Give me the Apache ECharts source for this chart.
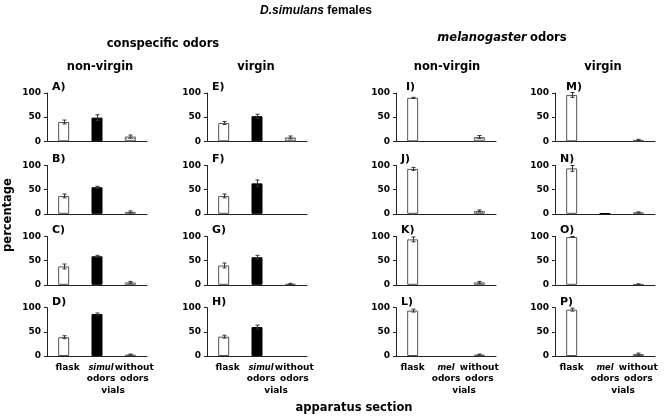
<!DOCTYPE html>
<html>
<head>
<meta charset="utf-8">
<script src="https://cdn.jsdelivr.net/npm/echarts@6/dist/echarts.min.js"></script>
<style>
html,body{margin:0;padding:0;background:#fff;}
#main{width:667px;height:417px;}
</style>
</head>
<body>
<div id="main"></div>
<script>
// panels, column by column: A-D, E-H, I-L, M-P
var panels = ['A)','B)','C)','D)','E)','F)','G)','H)','I)','J)','K)','L)','M)','N)','O)','P)'];
var catsSimul = ['flask','{i|simul}\nodors','without\nodors'];
var catsMel = ['flask','{i|mel}\nodors','without\nodors'];
var yTicks = [0, 50, 100];

var flask    = [40, 37, 38, 39,  38, 37, 40, 40,  90, 93, 94, 94,  96, 94, 99, 96];
var flaskErr = [ 4,  4,  5,  3,   3,  4,  5,  3,   1,  3,  5,  3,   5,  6,  1,  3];
var odors    = [49, 55, 59, 87,  52, 63, 57, 60,   0,  0,  0,  0,   0,  1,  0,  0];
var odorsErr = [ 6,  2,  2,  2,   4,  7,  4,  4,   0,  0,  0,  0,   0,  0,  0,  0];
var without  = [10,  4,  5,  3,   8,  0,  2,  0,   9,  6,  5,  3,   3,  3,  1,  4];
var withoutErr=[ 3,  2,  2,  1,   3,  0,  1,  0,   3,  2,  2,  1,   1,  1,  1,  2];

var chart = echarts.init(document.getElementById('main'));
var F = 'DejaVu Sans';

// hatched fill for the third bar
var pat = document.createElement('canvas');
pat.width = 4; pat.height = 4;
var ctx = pat.getContext('2d');
ctx.fillStyle = '#e4e4e4'; ctx.fillRect(0,0,4,4);
ctx.fillStyle = '#777';
ctx.fillRect(0,0,1,1); ctx.fillRect(2,2,1,1); ctx.fillRect(2,0,1,1); ctx.fillRect(0,2,1,1);

var colLeft = [47, 207, 396, 555];
var rowTop = [93, 165.5, 236.5, 307.7];
var gw = 100, gh = 48.3;

function errItem(params, api){
    var v = api.value(1), e = api.value(2);
    if (!e) return null;
    var lo = api.coord([api.value(0), Math.max(0, v - e)]);
    var hi = api.coord([api.value(0), v + e]);
    var x = Math.round(lo[0]) + 0.5;
    var st = {stroke:'#333', lineWidth:1};
    return {type:'group', children:[
        {type:'line', shape:{x1:x, y1:lo[1], x2:x, y2:hi[1]}, style:st},
        {type:'line', shape:{x1:x-2, y1:hi[1], x2:x+2, y2:hi[1]}, style:st},
        {type:'line', shape:{x1:x-2, y1:lo[1], x2:x+2, y2:lo[1]}, style:st}
    ]};
}

function barItem(v, fill, border){
    // no outline for empty bars
    return {value: v, itemStyle:{color: fill, borderColor: border, borderWidth: v > 0 ? 1 : 0}};
}

var grid = [], xAxis = [], yAxis = [], series = [], graphic = [];
for (var i = 0; i < 16; i++) {
    var c = Math.floor(i / 4), r = i % 4;
    grid.push({left: colLeft[c], top: rowTop[r], width: gw, height: gh});
    xAxis.push({
        type:'category', gridIndex:i, data: c < 2 ? catsSimul : catsMel,
        axisLine:{lineStyle:{color:'#222', width:1}},
        axisTick:{show:false},
        axisLabel:{show: r == 3, interval:0, margin:6, padding: c < 2 ? [0,0,0,8] : [0,0,0,0],
            color:'#000', fontFamily:F, fontWeight:'bold', fontSize:9, lineHeight:11,
            rich:{i:{fontStyle:'italic', fontFamily:F, fontWeight:'bold', fontSize:8.3, lineHeight:11}}}
    });
    yAxis.push({
        type:'value', gridIndex:i, min: yTicks[0], max: yTicks[2], interval: yTicks[1],
        axisLine:{show:true, lineStyle:{color:'#222', width:1}},
        axisTick:{show:true, length:3, lineStyle:{color:'#222'}},
        splitLine:{show:false},
        axisLabel:{margin:6, color:'#000', fontFamily:F, fontWeight:'bold', fontSize:9}
    });
    series.push({
        type:'bar', xAxisIndex:i, yAxisIndex:i, barWidth:11, silent:true,
        data:[
            barItem(flask[i], '#fff', '#555'),
            barItem(odors[i], '#000', '#000'),
            barItem(without[i], {image:pat, repeat:'repeat'}, '#666')
        ]
    });
    series.push({
        type:'custom', xAxisIndex:i, yAxisIndex:i, silent:true, renderItem: errItem,
        encode:{x:0, y:1}, z:5,
        data:[[0, flask[i], flaskErr[i]], [1, odors[i], odorsErr[i]], [2, without[i], withoutErr[i]]]
    });
    graphic.push({type:'text', x: colLeft[c] + (i == 8 ? 10 : (i == 12 ? 11 : 5)), y: rowTop[r] - 6,
        style:{text: panels[i], font:'bold 11px "DejaVu Sans"', fill:'#000', textVerticalAlign:'middle'}});
}

// headings
function head(txt, cx, cy, size){
    return {type:'text', x: cx, y: cy, style:{text: txt, textAlign:'center', textVerticalAlign:'middle',
        font:'bold ' + size + 'px "DejaVu Sans"', fill:'#000'}};
}
graphic.push({type:'text', x:316, y:11, style:{
    text:'{a|D.simulans} {b|females}', textAlign:'center', textVerticalAlign:'middle',
    rich:{a:{fontFamily:'Liberation Sans', fontStyle:'italic', fontWeight:'bold', fontSize:12, fill:'#000'},
          b:{fontFamily:'Liberation Sans', fontWeight:'bold', fontSize:12, fill:'#000'}}}});
graphic.push(head('conspecific odors', 163, 44, 11.5));
graphic.push({type:'text', x:502, y:38, style:{
    text:'{a|melanogaster} {b|odors}', textAlign:'center', textVerticalAlign:'middle',
    rich:{a:{fontFamily:F, fontStyle:'italic', fontWeight:'bold', fontSize:11.5, fill:'#000'},
          b:{fontFamily:F, fontWeight:'bold', fontSize:11.5, fill:'#000'}}}});
graphic.push(head('non-virgin', 100, 67, 11.5));
graphic.push(head('virgin', 256, 67, 11.5));
graphic.push(head('non-virgin', 447, 67, 11.5));
graphic.push(head('virgin', 603, 67, 11.5));
graphic.push(head('vials', 113, 391, 9));
graphic.push(head('vials', 276, 391, 9));
graphic.push(head('vials', 464, 391, 9));
graphic.push(head('vials', 623, 391, 9));
graphic.push(head('apparatus section', 354, 408, 11.5));
graphic.push({type:'text', x:8, y:215, rotation:Math.PI/2, style:{text:'percentage', textAlign:'center',
    textVerticalAlign:'middle', font:'bold 11.5px "DejaVu Sans"', fill:'#000'}});

option = {
    animation:false,
    grid: grid,
    xAxis: xAxis,
    yAxis: yAxis,
    series: series,
    graphic: graphic
};
chart.setOption(option);
</script>
</body>
</html>
